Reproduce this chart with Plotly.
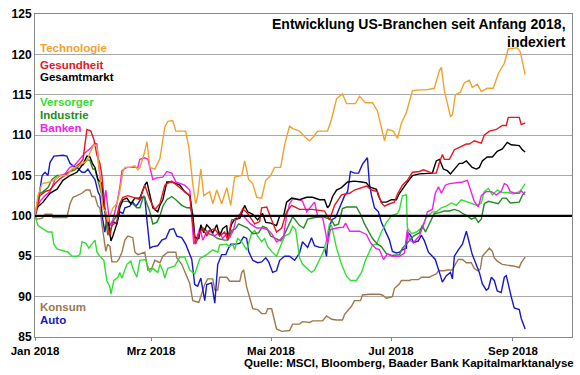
import pandas as pd
import plotly.graph_objects as go

# (days since 1 Jan 2018, index value)
technologie = [(0,100),(1.5,102.5),(3.6,104),(7.6,104.2),(10.2,104.5),(12.7,105),(16.2,105),(18.8,105.8),(22.8,106.3),(26.4,106.8),(27.9,107.8),(29.9,108.8),(31.5,108.6),(33,105),(34.5,101),(36,100.5),(37,99.3),(38.1,100),(39.6,101),(41.6,101.5),(43.1,103),(44.7,105.5),(45.7,106),(48.2,106),(50.8,106.2),(52.3,105.7),(53.3,106),(55.3,107.5),(56.9,109.2),(58.4,106),(60.9,105.8),(63.5,107.1),(66,111),(67.5,111.7),(70,111.8),(71.6,110.5),(76.6,110.5),(78.2,108.5),(80.2,104),(81.7,101.5),(82.7,102.5),(84.3,105.8),(85.8,102.5),(88.8,103),(90.4,101.5),(92.4,103.2),(94.9,101.5),(97.5,103.5),(99.5,101.3),(101.5,104.8),(105.1,105),(106.6,106.8),(108.6,104.5),(110.7,104),(112.7,102.3),(115.2,102.2),(117.3,104.4),(119.8,105),(121.8,106),(124.9,106),(126.9,108.8),(129.4,111.1),(131,110.8),(134.5,110.5),(137.1,109.8),(139.6,109.3),(141.6,109.8),(143.7,110.5),(148.7,110.5),(150.8,112),(153.3,114.5),(156.3,115.1),(158.4,113.9),(162.9,113.9),(165,114.8),(168,114),(171.6,114),(174.1,113),(176.1,111),(177.7,109.3),(179.2,110.7),(182.2,110.5),(184.3,109.6),(186.3,111.5),(188.8,112.8),(191.9,115.5),(195.4,115.6),(199,115.6),(203,115.8),(205.6,118),(206.6,118.4),(208.1,115.5),(209.6,114),(211.2,112.3),(212.2,112.5),(213.7,115),(216.2,115.3),(218.3,116.5),(220.8,116.8),(222.3,115.9),(224.9,116.3),(226.9,115.4),(229.9,115.8),(233,115.8),(235.5,117.6),(238.6,118.9),(240.6,120.7),(245.2,120.8),(246.7,120.3),(247.7,119),(249.2,117.5)]

gesundheit = [(0,100),(2.5,102.5),(5.1,103),(7.6,103.2),(10.2,104),(12.7,104.6),(15.2,105),(17.8,105.5),(20.3,106),(22.8,106.5),(24.4,107),(25.4,108.8),(26.4,110.7),(28.4,110.5),(29.9,109.5),(31.5,107.5),(33,106.5),(34,105),(35.5,101),(37,98.8),(38.1,97.5),(39.1,98.8),(41.6,99.3),(43.1,101.5),(44.7,102.3),(47.2,102.5),(50.8,102.2),(53.3,102),(55.8,103.8),(58.4,102),(60.9,100.8),(63.5,101.5),(66,103.8),(69.5,104.3),(74.6,103.3),(78.7,102.5),(80.2,99),(81.7,96.5),(83.8,98),(85.3,98.5),(87.3,97.5),(88.8,98.2),(91.4,98.4),(93.9,97.5),(96.4,98),(98,97),(100,99.5),(103,99.6),(105.6,100.9),(108.1,100.3),(111.7,99),(114.2,99.3),(115.2,101),(117.8,101.1),(120.3,99.5),(122.8,98),(125.4,98.5),(127.9,100.5),(130.5,101.3),(134.5,100.8),(141.1,100.8),(147.2,100.6),(149.7,99.5),(152.3,101.3),(155.8,102.6),(159.9,102.8),(162.4,103.2),(165,103.4),(168.5,103.7),(171.1,103.2),(174.1,103),(176.1,101.6),(177.7,101.2),(180.2,101.5),(182.7,101.7),(184.3,102.7),(186.8,103.8),(189.3,104.4),(191.9,105.4),(195.4,105.5),(197.5,105.7),(202,105.3),(204,105.3),(205.6,106.6),(207.1,107.6),(208.1,107),(210.7,107),(213.2,108.2),(215.7,108.5),(219.3,108.9),(220.8,108.9),(223.3,109.3),(226.9,109),(228.4,110),(231,110.5),(234.5,110.7),(237.6,111.2),(239.6,111.2),(240.6,112.2),(246.2,112.2),(247.2,111.3),(249.2,111.5)]

gesamtmarkt = [(0,100),(1,101),(4.1,101.7),(7.6,102.8),(11.2,103.3),(14.2,104.4),(17.8,105),(21.3,105.4),(24.4,106.4),(26.4,107.4),(27.9,107.3),(29.4,106.4),(30.5,106),(32,104.5),(34,104),(35,101.5),(36.5,99.5),(37.5,99),(38.6,96.9),(39.6,97.5),(41.6,99),(43.1,101),(44.7,102),(46.7,102.2),(48.7,101.5),(50.8,102.2),(53.3,102.2),(55.8,103.8),(56.9,104.2),(58.4,102.5),(59.9,101),(62.4,100.5),(63.5,101.3),(65,102),(67,104.2),(69.5,104.2),(73.6,103.8),(76.1,103),(78.7,102.5),(80.2,100),(81.2,97.3),(83.3,97.2),(84.3,98.9),(85.8,97.9),(87.3,98.9),(88.8,98.5),(90.4,97.9),(92.4,98.9),(93.9,97.5),(95.4,98.4),(97.5,98.8),(98,97.3),(100,99),(101.5,99.6),(104.1,99.7),(106.6,101.3),(108.1,100.5),(110.7,100.2),(113.2,99.5),(115.7,100.3),(117.3,99.2),(119.8,99.1),(122.8,98.8),(124.4,100),(126.4,100),(127.9,101.7),(130.5,102.2),(134.5,102),(138.1,102.3),(141.1,102.3),(144.7,102),(147.2,102),(148.7,101),(149.7,101.3),(151.3,102.4),(153.3,103.2),(155.8,103.5),(158.9,104.2),(162.4,104.3),(166,104.2),(168.5,104.1),(170,103.6),(173.6,103.3),(174.6,102.5),(176.1,101.7),(178.7,101.7),(181.2,102),(183.7,102),(185.3,102.8),(188.8,104),(191.9,105),(195.4,105.2),(199,105.3),(202,105.3),(204,106.8),(205.6,107),(207.6,105.8),(209.6,105.6),(211.2,105.2),(213.2,105.8),(215.7,106.5),(217.3,106.5),(219.3,106.8),(220.8,106.4),(222.3,106),(224.4,105.8),(225.9,106),(227.4,106.8),(229.9,107.3),(232.5,107.3),(235,108),(237.6,108.3),(240.1,109.1),(242.1,108.8),(246.2,108.7),(247.7,108.2),(249.2,107.9)]

banken = [(0,100),(2.5,101.8),(5.1,102.5),(7.6,103),(10.2,104.5),(12.7,105),(15.2,105.2),(17.8,106),(20.3,106.3),(22.8,107),(25.4,107.8),(27.9,108.3),(30.5,109),(31.5,108.9),(32.5,106),(34,103),(35,101.5),(36,103.2),(37,101),(38.1,98.8),(39.6,99.5),(41.6,101.5),(43.1,103.5),(44.2,105.6),(46.7,106),(50.8,106),(52.3,106),(53.3,107),(55.8,107.2),(57.4,107),(58.4,106),(59.9,104.5),(61.9,104.7),(65,104.8),(67,105.5),(69.5,105.3),(71.6,104.2),(73.6,104),(76.1,103.8),(78.7,103.2),(79.7,100),(80.7,96.5),(82.2,97.3),(83.8,98.5),(85.3,97),(87.3,98),(88.8,98.2),(91.4,97.5),(93.9,98),(95.4,97.2),(97.5,97.8),(99,97.3),(101,98.3),(102.5,100),(105.1,100.2),(107.6,99.5),(109.6,99),(112.7,98.5),(115.7,98.5),(118.3,98.3),(120.3,97.8),(122.8,96.8),(124.4,97),(126.4,97.5),(127.9,100),(129.4,101.5),(131,102.1),(134.5,102),(136,101.8),(138.1,100.5),(140.6,101.3),(142.1,101.7),(143.7,100),(146.2,99.8),(147.7,98),(148.7,96.5),(150.2,98.3),(153.3,98.5),(156.8,98.6),(157.9,99.1),(160,98.1),(165,98.1),(168.5,97.7),(170.5,96.7),(173.1,96),(175.1,95.8),(177.2,94.6),(179.2,95.3),(181.7,95),(185.3,95),(187.8,95.4),(189.3,98.3),(190.4,97),(192.4,96.7),(195.4,97.5),(198,99.2),(199.5,100.5),(202,100.8),(203.5,102.8),(205.1,103.6),(206.6,102.8),(208.6,103.8),(210.7,104),(214.2,104.1),(217.3,104.2),(219.8,104.4),(221.3,103.2),(223.3,101.8),(225.4,101.1),(226.9,102.5),(229.4,103),(232,103),(234.5,102.6),(237,103),(238.6,104),(240.1,103.8),(241.6,103),(244.1,102.8),(246.2,102.8),(247.2,103.1),(249.2,102.6)]

versorger = [(0,100),(1.5,98.8),(4.1,98.4),(6.6,98),(8.6,98),(9.6,96.5),(11.2,95.9),(13.7,95.7),(16.8,95.5),(18.8,95),(21.3,95),(22.8,95.2),(23.9,96.8),(25.9,96.6),(27.4,96),(28.9,96.5),(30.5,97),(31.5,95.5),(33,95),(35,94.5),(36.5,92),(38.1,91.2),(38.6,90.3),(40.1,92),(42.1,92.4),(43.1,93),(44.2,92.3),(46.7,94),(48.7,94.4),(49.7,93.5),(51.8,92.4),(53.3,94.5),(56.3,94.6),(58.4,93),(59.9,93.5),(62.4,93),(63.5,94),(65,93.2),(66,92.3),(67.5,93.5),(71.1,93.8),(73.6,94.9),(76.1,94.9),(78.7,93.3),(81.2,92.8),(83.8,94.7),(85.8,95),(87.8,95.3),(90.4,95.8),(92.9,95.5),(93.9,96.4),(97.5,96.5),(99,96.2),(100.5,96.5),(101.5,95.8),(103,97.2),(105.1,96.8),(107.6,95.8),(110.1,97.8),(111.7,98.2),(113.2,97.5),(115.2,96.8),(116.7,97.2),(118.3,96.2),(120.3,95.6),(122.8,95),(124.4,96),(126.9,97.5),(129.4,97.8),(131,98.7),(132.5,98.3),(134.5,94.8),(136,94),(138.1,93.5),(140.6,93),(142.1,93.3),(144.7,94.5),(146.7,95.6),(148.2,97),(149.7,99),(150.8,98.8),(153.3,96),(155.8,94),(158.4,92.5),(160.4,92),(163.4,92),(166,93),(168,94.5),(171.6,96.4),(173.6,96.5),(176.1,98),(178.7,99.2),(181.2,100),(184.3,100.3),(185.3,100.8),(186.8,102.5),(188.8,102.6),(189.3,98.5),(191.4,97.8),(193.9,98),(196.4,98.5),(199,99.8),(202,100.5),(204,100.5),(206.6,101),(209.1,101.2),(211.7,101.6),(214.2,101.3),(216.7,102),(219.3,101.8),(222.3,101.5),(224.9,101.3),(226.9,101.6),(228.4,103),(230.5,103.4),(232.5,102.6),(235,103.2),(237.6,102.9),(240.6,102.9),(243.1,102.7),(246.2,103),(247.7,103.4),(249.2,104)]

industrie = [(0,100),(2,102.7),(4.1,103),(6.6,103.5),(8.6,104.5),(11.2,105),(14.2,105),(17.8,105.5),(20.3,105.7),(22.8,106.3),(24.4,106.3),(26.4,106.9),(27.9,106.9),(29.4,105.8),(30.5,105.8),(32,104.5),(34,102.5),(35.5,100.5),(37,97.6),(38.6,98.5),(40.1,99.5),(41.6,100),(43.1,101.5),(44.7,101.8),(47.2,101.8),(49.7,101.5),(51.8,101),(53.3,101),(55.3,102.5),(56.9,101.5),(58.4,100.5),(59.9,99),(61.9,99.2),(63.5,100),(65,101.2),(67,102),(69.5,102.4),(71.6,102),(74.6,101.3),(77.2,101),(78.7,101),(80.2,100.3),(81.2,97.5),(82.7,97),(84.3,98.6),(86.3,98.4),(88.3,97.8),(90.4,97.6),(92.9,97.2),(96.4,97),(98,97),(100,98.2),(102,98.4),(103.5,99),(105.6,98.8),(108.1,98.5),(110.7,97.8),(113.7,97.9),(115.7,98.7),(117.8,98.5),(119.8,97.5),(122.3,97.2),(124.9,96.9),(126.4,97.5),(128.4,98.5),(131,99.9),(134.5,98.8),(136.6,98.5),(138.6,99.6),(142.1,99.8),(146.2,99.9),(148.7,99.7),(150.8,99.5),(152.3,98.8),(154.3,99),(156.3,100.9),(158.4,101.1),(163.4,101.1),(165.5,100.2),(167.5,99),(169,98.4),(171.6,97.2),(174.1,96.5),(176.1,96.2),(178.7,95.3),(181.2,95.1),(185.3,95.2),(186.8,96),(188.8,96.5),(190.4,97),(192.4,97.5),(195.4,97.9),(196.9,98.8),(198.5,98),(200.5,99),(203,100.3),(205.6,100.4),(208.1,100.6),(210.7,100.6),(213.2,100.8),(215.7,100.6),(217.3,100.3),(219.8,100),(221.8,99.6),(223.8,99.8),(225.4,99.2),(226.9,99.6),(228.4,101.5),(230.5,101.8),(233.5,101.6),(235.5,101.5),(237.6,102.2),(239.6,102.2),(241.6,101.6),(246.2,101.7),(247.7,102.5),(249.2,103)]

konsum = [(0,100),(1,99.6),(3.6,99.7),(5.1,100.2),(8.6,100.2),(9.1,99.8),(12.7,99.8),(16.2,99.8),(17.8,101.5),(19.3,102.3),(21.3,102.5),(23.9,102.8),(25.9,103.2),(27.9,103.2),(28.9,102.4),(30.5,102.4),(32,101.2),(33,101),(34,99),(35.5,96.5),(36,95.6),(37,96.5),(38.1,96.2),(39.1,94.3),(41.6,94.3),(42.6,94.6),(44.2,95.5),(45.7,97),(47.2,97.5),(49.7,97.3),(50.8,95.5),(52.3,95.2),(53.8,95.3),(55.8,95.5),(57.4,93.3),(59.4,93.5),(60.9,94.5),(63.5,94.2),(65,95),(67.5,95.5),(71.6,95.5),(72.1,94.8),(74.6,94),(77.2,92.5),(78.7,91.6),(80.2,89.5),(83.3,89.3),(84.8,90.4),(86.3,91.5),(87.8,92.2),(90.4,92.2),(91.4,90.8),(92.9,90.8),(93.9,92.4),(97.5,92.4),(99,91.9),(104.1,91.9),(105.1,93),(106.1,93.3),(107.6,91.2),(109.1,90),(110.7,88.5),(113.2,88.4),(115.2,87.9),(117.3,87.9),(118.3,88.5),(120.3,88.5),(121.3,87.5),(122.8,86),(125.4,85.7),(129.4,85.8),(131,86.6),(134.5,86.6),(136,86.9),(139.6,86.8),(141.1,87),(146.2,87),(148.2,87.6),(150.8,87.2),(153.3,87.1),(156.3,87.1),(157.4,87.8),(159.4,88.4),(160.9,88.8),(162.4,89.5),(165.5,89.5),(166.5,90.2),(170,90.3),(175.1,90.3),(176.6,90.2),(178.7,89.8),(181.7,90),(182.7,91),(185.3,91.6),(186.3,92),(190.4,92),(191.4,92.1),(194.9,92.1),(196.4,92.4),(200.5,92.4),(202,92.6),(204,92.8),(205.1,93.2),(208.1,93.2),(209.6,93.3),(212.2,93.3),(213.7,94),(215.2,94.6),(217.3,94.6),(219.3,94.2),(221.8,94.2),(223.3,93.5),(224.9,93.2),(226.4,93.4),(227.4,95),(229.9,95.7),(231,96),(232.5,95.6),(233.5,94.8),(235,94.4),(237.6,94),(240.1,93.9),(243.1,93.8),(246.2,93.6),(247.2,94.2),(249.2,94.9)]

auto = [(0,100),(1,101),(2.5,103.2),(3.6,105),(5.1,105.4),(6.6,105),(7.6,106.6),(9.6,107.4),(14.2,107.5),(16.2,107.4),(17.8,106.5),(19.3,106.2),(21.3,106),(23.9,105.4),(25.4,105.4),(26.9,105.8),(28.4,105.2),(30.5,104.5),(32,103),(33,102.5),(34.5,99.5),(35.5,98),(36.5,99.5),(37.5,98.8),(38.6,99),(39.6,99.3),(41.6,99),(43.1,100.5),(44.7,100.3),(45.7,101),(48.2,101.2),(49.7,101.7),(51.3,101.2),(52.3,101.5),(54.3,102.3),(55.8,102.3),(56.9,99.5),(58.4,96),(59.9,96.2),(62.4,96.3),(64.5,97),(66.5,97.2),(68.5,98.3),(70.5,98.4),(72.1,97.5),(74.6,97.3),(76.6,96.5),(78.2,95.5),(79.7,94.6),(81.2,91.5),(82.7,91.3),(84.3,92.3),(86.3,89.5),(87.3,91.5),(89.8,91.7),(91.4,89.2),(92.9,94),(94.9,95.2),(97,95.2),(98,95.8),(99.5,96.5),(102,96.5),(104.1,96.6),(106,97.4),(107.6,97.2),(108.6,95.6),(110.7,94.5),(113.2,94.2),(115.2,94.3),(117.3,94.8),(118.8,94.3),(120.8,93),(122.8,93.2),(124.4,94.5),(126.9,95),(129.4,95),(132,94.5),(134.5,95.4),(136,96.8),(138.6,96.1),(140.6,97.3),(142.1,96.3),(144.7,96.1),(147.2,96.1),(148.2,95),(149.2,98),(150.8,99.5),(152.8,99.8),(155.3,101.3),(157.4,102.5),(158.9,103),(160.4,105.5),(162.4,105.3),(164.5,105.3),(166.5,106.4),(169,107.2),(170,104),(171.1,102.5),(172.6,101),(174.6,100.5),(176.1,99.2),(178.2,98),(180.2,97),(181.7,95.6),(183.7,95.4),(185.3,95.5),(186.8,95.8),(188.8,96),(189.3,98),(190.9,97.6),(192.4,96.7),(194.9,96.9),(196.4,97.6),(198,96.9),(200,95.5),(202,95),(203.5,94.6),(205.6,93),(207.1,91.8),(209.1,92.6),(211.2,93),(212.2,92.2),(213.2,95),(215.2,95.8),(217.3,96.5),(219.3,98.1),(220.8,96.5),(222.3,95.2),(223.3,94.6),(224.4,93.8),(225.9,93),(227.4,91.6),(229.4,90.8),(230.5,91),(232,92.4),(233.5,92),(235,90.7),(237,90.5),(238.6,92.4),(239.6,92.6),(241.1,90.8),(242.1,90),(243.6,88.6),(246.2,88.4),(247.2,87.3),(249.2,86)]

series_names = ["Konsum", "Auto", "Versorger", "Industrie", "Banken", "Gesamtmarkt", "Gesundheit", "Technologie"]
series_data = [konsum, auto, versorger, industrie, banken, gesamtmarkt, gesundheit, technologie]
series_colors = ["#A0784B", "#1818C8", "#33DD33", "#228B22", "#EE22EE", "#000000", "#E8141E", "#F0A22E"]

x_tickvals = ["2018-01-01", "2018-03-01", "2018-05-01", "2018-07-01", "2018-09-01"]
x_ticktext = ["Jan 2018", "Mrz 2018", "Mai 2018", "Jul 2018", "Sep 2018"]
y_tickvals = [85, 90, 95, 100, 105, 110, 115, 120, 125]

title_line1 = "Entwicklung US-Branchen seit Anfang 2018,"
title_line2 = "indexiert"
source_text = "Quelle: MSCI, Bloomberg, Baader Bank Kapitalmarktanalyse"

# legend labels: name, colour, paper y
label_names = ["Technologie", "Gesundheit", "Gesamtmarkt", "Versorger", "Industrie", "Banken", "Konsum", "Auto"]
label_colors = ["#F0A22E", "#E8141E", "#000000", "#33DD33", "#228B22", "#EE22EE", "#A0784B", "#1818C8"]
label_y = [0.895, 0.842, 0.804, 0.728, 0.687, 0.646, 0.094, 0.054]

FONT = "Liberation Sans, Arial, sans-serif"
start = pd.Timestamp("2018-01-01")

fig = go.Figure()
for name, data, col in zip(series_names, series_data, series_colors):
    days, vals = zip(*data)
    xs = start + pd.to_timedelta(list(days), unit="D")
    fig.add_trace(go.Scatter(x=xs, y=list(vals), mode="lines", name=name,
                             line=dict(color=col, width=1.4), showlegend=False))

# thick 100 reference line
fig.add_shape(type="line", xref="paper", x0=0, x1=1, yref="y", y0=100, y1=100,
              line=dict(color="black", width=2.2), layer="above")

annotations = []
for t, c, y in zip(label_names, label_colors, label_y):
    annotations.append(dict(text=f"<b>{t}</b>", x=0.005, y=y, xref="paper", yref="paper",
                            xanchor="left", yanchor="middle", showarrow=False,
                            font=dict(family=FONT, size=11.5, color=c)))
annotations.append(dict(text=f"<b>{title_line1}</b>", x=0.99, y=0.968, xref="paper", yref="paper",
                        xanchor="right", yanchor="middle", showarrow=False, borderpad=0,
                        font=dict(family=FONT, size=14, color="black")))
annotations.append(dict(text=f"<b>{title_line2}</b>", x=0.99, y=0.914, xref="paper", yref="paper",
                        xanchor="right", yanchor="middle", showarrow=False, borderpad=0,
                        font=dict(family=FONT, size=14, color="black")))
annotations.append(dict(text=f"<b>{source_text}</b>", x=1.007, y=-0.081, xref="paper", yref="paper",
                        xanchor="right", yanchor="middle", showarrow=False,
                        font=dict(family=FONT, size=11.5, color="black")))

fig.update_layout(
    width=580, height=375,
    margin=dict(l=35, r=7, t=9, b=38),
    paper_bgcolor="white", plot_bgcolor="white",
    font=dict(family=FONT, color="black"),
    annotations=annotations,
    xaxis=dict(type="date", range=["2018-01-01", "2018-10-01"],
               tickvals=x_tickvals, ticktext=[f"<b>{t}</b>" for t in x_ticktext],
               tickfont=dict(family=FONT, size=11.5, color="black"),
               ticks="outside", ticklen=3, tickcolor="#888888",
               showgrid=False, showline=True, linecolor="#888888", linewidth=1, mirror=True,
               zeroline=False),
    yaxis=dict(range=[85, 125], tickvals=y_tickvals,
               ticktext=[f"<b>{v}</b>" for v in y_tickvals],
               tickfont=dict(family=FONT, size=12, color="black"),
               ticks="", showgrid=True, gridcolor="#A8A8A8", gridwidth=1,
               showline=True, linecolor="#888888", linewidth=1, mirror=True,
               zeroline=False),
)

fig.write_html("out.html", config={"displayModeBar": False},
               post_script="document.body.style.margin='0';document.body.style.overflow='hidden';")
